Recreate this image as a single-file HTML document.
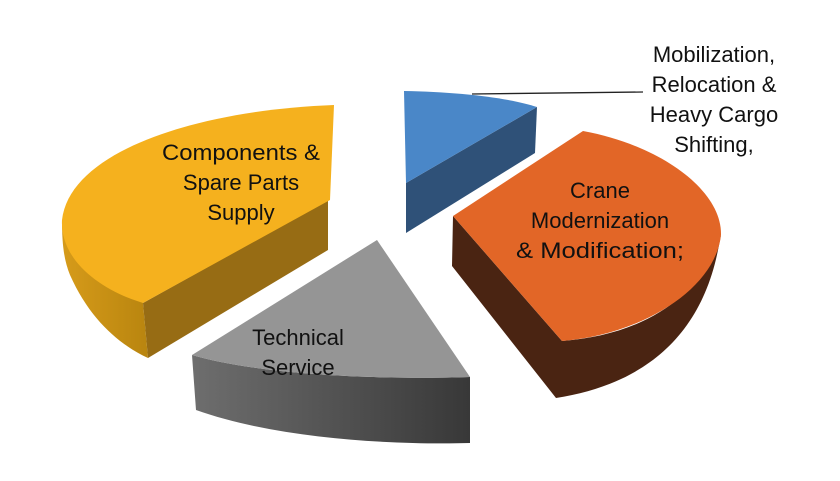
<!DOCTYPE html>
<html><head><style>
body{margin:0;background:#fff;}
svg text{font-family:"Liberation Sans",sans-serif;font-size:22px;fill:#111;text-anchor:middle;}
</style></head><body>
<svg width="840" height="476" viewBox="0 0 840 476">
<defs>
<linearGradient id="ys" x1="0" x2="1"><stop offset="0" stop-color="#d69b1a"/><stop offset="1" stop-color="#b9850f"/></linearGradient>
<linearGradient id="gs" x1="0" x2="1"><stop offset="0" stop-color="#6e6e6e"/><stop offset="1" stop-color="#383838"/></linearGradient>
</defs>
<path d="M62,220 C62,245 64,260 70,275 C90,320 120,345 148,358 L143,303 Z" fill="url(#ys)"/>
<path d="M143,303 L328,200 L328,250 L148,358 Z" fill="#976c14"/>
<path d="M334,105 C200,110 70,150 62,220 C60,260 100,290 143,303 L330,200 Z" fill="#f5b11e"/>
<path d="M192,355 L196,410 C280,440 400,445 470,443 L470,377 C380,380 260,375 192,355 Z" fill="url(#gs)"/>
<path d="M377,240 L470,377 C380,380 260,375 192,355 Z" fill="#959595"/>
<path d="M537,107 L535,153 L406,233 L406,183 Z" fill="#2f5178"/>
<path d="M404,91 C460,92 510,98 537,107 L406,183 Z" fill="#4a87c8"/>
<path d="M453,216 L452,266 L556,398 C640,385 700,340 718,250 L721,235 C700,300 640,335 562,341 Z" fill="#4a2412"/>
<path d="M453,216 L583,131 C660,145 722,190 721,235 C715,290 640,335 562,341 Z" fill="#e26627"/>
<line x1="472" y1="94" x2="643" y2="92" stroke="#222" stroke-width="1.3"/>
<text x="241" y="160" textLength="158" lengthAdjust="spacingAndGlyphs">Components &amp;</text>
<text x="241" y="190">Spare Parts</text>
<text x="241" y="220">Supply</text>
<text x="298" y="345">Technical</text>
<text x="298" y="375">Service</text>
<text x="600" y="198">Crane</text>
<text x="600" y="228">Modernization</text>
<text x="600" y="258" textLength="168" lengthAdjust="spacingAndGlyphs">&amp; Modification;</text>
<text x="714" y="62">Mobilization,</text>
<text x="714" y="92">Relocation &amp;</text>
<text x="714" y="122">Heavy Cargo</text>
<text x="714" y="152">Shifting,</text>
</svg>
</body></html>
